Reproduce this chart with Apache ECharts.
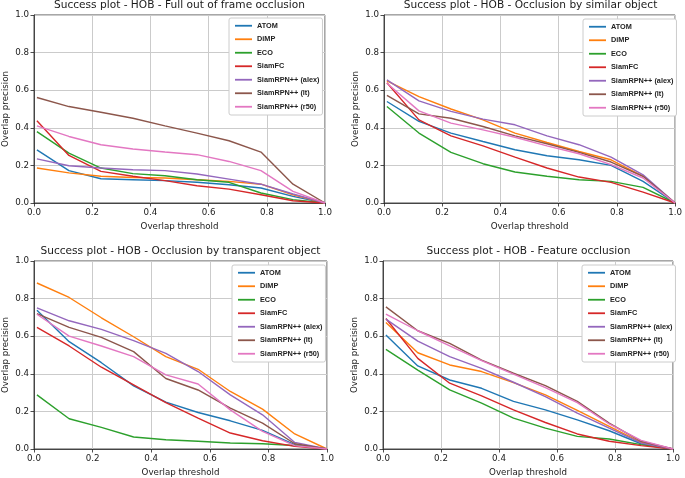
<!DOCTYPE html>
<html>
<head>
<meta charset="utf-8">
<script src="https://cdn.jsdelivr.net/npm/echarts@6/dist/echarts.min.js"></script>
<style>html,body{margin:0;padding:0;background:#fff}#c{width:685px;height:478px}</style>
</head>
<body>
<div id="c"></div>
<script>
// Thresholds (x) shared by all subplots
const thresholds = [0.01, 0.12, 0.23, 0.34, 0.45, 0.56, 0.67, 0.78, 0.89, 1.0];
const trackers = ['ATOM', 'DiMP', 'ECO', 'SiamFC', 'SiamRPN++ (alex)', 'SiamRPN++ (lt)', 'SiamRPN++ (r50)'];
const titles = [
  'Success plot - HOB - Full out of frame occlusion',
  'Success plot - HOB - Occlusion by similar object',
  'Success plot - HOB - Occlusion by transparent object',
  'Success plot - HOB - Feature occlusion'
];
const tickLabels = ['0.0', '0.2', '0.4', '0.6', '0.8', '1.0'];

// Full out of frame occlusion
const fo_atom = [0.283, 0.172, 0.129, 0.124, 0.119, 0.110, 0.097, 0.080, 0.035, 0];
const fo_dimp = [0.186, 0.160, 0.142, 0.136, 0.133, 0.124, 0.115, 0.100, 0.044, 0];
const fo_eco  = [0.380, 0.265, 0.186, 0.156, 0.145, 0.124, 0.110, 0.053, 0.018, 0];
const fo_sfc  = [0.437, 0.253, 0.168, 0.142, 0.119, 0.092, 0.074, 0.044, 0.012, 0];
const fo_alex = [0.235, 0.198, 0.186, 0.177, 0.172, 0.154, 0.127, 0.100, 0.048, 0];
const fo_lt   = [0.561, 0.513, 0.483, 0.451, 0.410, 0.372, 0.331, 0.271, 0.100, 0];
const fo_r50  = [0.410, 0.354, 0.310, 0.287, 0.271, 0.257, 0.221, 0.172, 0.062, 0];

// Occlusion by similar object
const so_atom = [0.540, 0.434, 0.372, 0.327, 0.283, 0.251, 0.230, 0.200, 0.115, 0];
const so_dimp = [0.650, 0.566, 0.500, 0.442, 0.372, 0.322, 0.274, 0.230, 0.142, 0];
const so_eco  = [0.513, 0.372, 0.269, 0.209, 0.165, 0.142, 0.124, 0.115, 0.083, 0];
const so_sfc  = [0.640, 0.442, 0.357, 0.304, 0.244, 0.186, 0.138, 0.110, 0.058, 0];
const so_alex = [0.655, 0.543, 0.487, 0.446, 0.416, 0.357, 0.310, 0.244, 0.150, 0];
const so_lt   = [0.572, 0.474, 0.451, 0.407, 0.357, 0.315, 0.269, 0.218, 0.142, 0];
const so_r50  = [0.637, 0.490, 0.425, 0.389, 0.350, 0.304, 0.262, 0.204, 0.133, 0];

// Occlusion by transparent object
const to_atom = [0.738, 0.571, 0.459, 0.336, 0.249, 0.194, 0.150, 0.099, 0.023, 0];
const to_dimp = [0.883, 0.806, 0.698, 0.597, 0.491, 0.424, 0.306, 0.212, 0.080, 0];
const to_eco  = [0.288, 0.161, 0.115, 0.064, 0.049, 0.041, 0.032, 0.028, 0.019, 0];
const to_sfc  = [0.647, 0.548, 0.435, 0.341, 0.247, 0.164, 0.085, 0.044, 0.014, 0];
const to_alex = [0.751, 0.682, 0.636, 0.576, 0.509, 0.412, 0.288, 0.182, 0.035, 0];
const to_lt   = [0.720, 0.647, 0.594, 0.518, 0.375, 0.314, 0.217, 0.138, 0.028, 0];
const to_r50  = [0.717, 0.600, 0.548, 0.491, 0.394, 0.346, 0.208, 0.094, 0.018, 0];

// Feature occlusion
const fe_atom = [0.606, 0.442, 0.367, 0.323, 0.253, 0.208, 0.155, 0.097, 0.028, 0];
const fe_dimp = [0.673, 0.512, 0.447, 0.412, 0.353, 0.288, 0.205, 0.120, 0.035, 0];
const fe_eco  = [0.530, 0.420, 0.314, 0.244, 0.164, 0.111, 0.067, 0.053, 0.023, 0];
const fe_sfc  = [0.694, 0.482, 0.350, 0.283, 0.208, 0.141, 0.080, 0.041, 0.018, 0];
const fe_alex = [0.691, 0.574, 0.491, 0.429, 0.355, 0.279, 0.191, 0.111, 0.032, 0];
const fe_lt   = [0.756, 0.629, 0.562, 0.473, 0.403, 0.337, 0.253, 0.138, 0.041, 0];
const fe_r50  = [0.717, 0.629, 0.548, 0.470, 0.398, 0.327, 0.247, 0.133, 0.046, 0];

const panels = [
  [fo_atom, fo_dimp, fo_eco, fo_sfc, fo_alex, fo_lt, fo_r50],
  [so_atom, so_dimp, so_eco, so_sfc, so_alex, so_lt, so_r50],
  [to_atom, to_dimp, to_eco, to_sfc, to_alex, to_lt, to_r50],
  [fe_atom, fe_dimp, fe_eco, fe_sfc, fe_alex, fe_lt, fe_r50]
];

const colors = ['#1f77b4', '#ff7f0e', '#2ca02c', '#d62728', '#9467bd', '#8c564b', '#e377c2'];
const FONT = 'DejaVu Sans';

const grids = [
  {left: 34, top: 15, width: 291, height: 188},
  {left: 384, top: 15, width: 293, height: 188},
  {left: 33, top: 261, width: 294, height: 188},
  {left: 383, top: 261, width: 290, height: 188}
];
const titlePos = [
  {x: 179.5, y: 0}, {x: 530.5, y: 0}, {x: 180.5, y: 245.5}, {x: 528.5, y: 245.5}
];
const legendPos = [
  {x: 229, y: 18}, {x: 583, y: 19}, {x: 232, y: 265}, {x: 582, y: 265}
];

const option = {
  backgroundColor: '#fff',
  animation: false,
  color: colors,
  title: titles.map((t, i) => ({
    text: t, left: titlePos[i].x, top: titlePos[i].y, textAlign: 'center', padding: 0,
    textStyle: {fontFamily: FONT, fontSize: 10.6, fontWeight: 'normal', color: '#1a1a1a'}
  })),
  grid: grids.map(g => Object.assign({show: true, borderColor: '#222', borderWidth: 0.8, backgroundColor: 'transparent'}, g)),
  legend: legendPos.map((p, i) => ({
    data: trackers, orient: 'vertical', left: p.x, top: p.y, icon: 'rect',
    padding: [1, 3, 1.5, 6], itemWidth: 17, itemHeight: 1.8, itemGap: 0, itemTextGap: 5,
    backgroundColor: '#fff', borderColor: '#cccccc', borderWidth: 1, borderRadius: 2,
    selectedMode: false,
    textStyle: {fontFamily: 'Liberation Sans', fontWeight: 'bold', fontSize: 7.3, color: '#222', lineHeight: 13.5}
  })),
  xAxis: grids.map((g, i) => ({
    type: 'value', gridIndex: i, min: 0, max: 1, interval: 0.2,
    name: 'Overlap threshold', nameLocation: 'middle', nameGap: 19,
    nameTextStyle: {fontFamily: FONT, fontSize: 8.7, color: '#1a1a1a'},
    axisLine: {show: true, lineStyle: {color: '#222', width: 0.8}},
    axisTick: {show: true, length: 3.5, lineStyle: {color: '#222', width: 0.8}},
    axisLabel: {fontFamily: FONT, fontSize: 8.7, color: '#1a1a1a', margin: 5,
      formatter: v => tickLabels[Math.round(v / 0.2)]},
    splitLine: {show: true, lineStyle: {color: '#cbcbcb', width: 1}}
  })),
  yAxis: grids.map((g, i) => ({
    type: 'value', gridIndex: i, min: 0, max: 1, interval: 0.2,
    name: 'Overlap precision', nameLocation: 'middle', nameGap: 24, nameRotate: 90,
    nameTextStyle: {fontFamily: FONT, fontSize: 8.7, color: '#1a1a1a'},
    axisLine: {show: true, lineStyle: {color: '#222', width: 0.8}},
    axisTick: {show: true, length: 3.5, lineStyle: {color: '#222', width: 0.8}},
    axisLabel: {fontFamily: FONT, fontSize: 8.7, color: '#1a1a1a', margin: 5,
      formatter: v => tickLabels[Math.round(v / 0.2)]},
    splitLine: {show: true, lineStyle: {color: '#cbcbcb', width: 1}}
  })),
  series: []
};

panels.forEach((panel, pi) => {
  panel.forEach((vals, ti) => {
    option.series.push({
      type: 'line', name: trackers[ti], xAxisIndex: pi, yAxisIndex: pi,
      symbol: 'none', clip: false,
      lineStyle: {width: 1.4, color: colors[ti]},
      itemStyle: {color: colors[ti]},
      data: thresholds.map((x, k) => [x, vals[k]])
    });
  });
});

const chart = echarts.init(document.getElementById('c'), null, {renderer: 'canvas'});
chart.setOption(option);
</script>
</body>
</html>
